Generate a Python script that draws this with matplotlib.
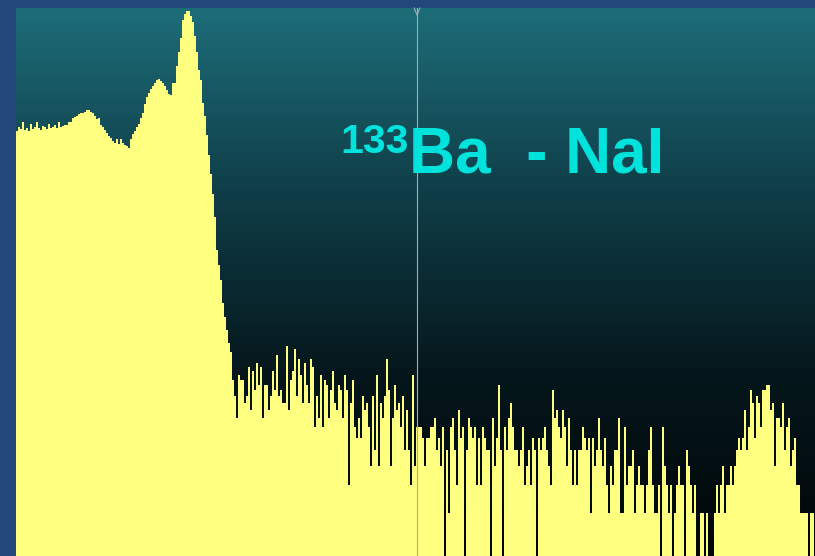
import numpy as np
import matplotlib
matplotlib.use("Agg")
import matplotlib.pyplot as plt
import matplotlib.transforms as mtransforms
from matplotlib.colors import LinearSegmentedColormap

# Gamma spectrum of Ba-133 taken with a NaI detector (counts per 2-channel bin)
counts_plateau = [530, 560, 545, 600, 540, 555, 530, 590, 545, 560, 600, 550, 540, 570,
                  560, 545, 590, 555, 560, 575, 555, 600, 565, 570, 580, 575, 600]
counts_bump = [600, 640, 650, 660, 680, 685, 690, 700, 720, 715, 700, 690, 660, 630,
               640, 580, 560, 540, 515, 490]
counts_valley = [480, 455, 445, 470, 440, 470, 445, 430, 425, 415, 470, 510, 530, 560]
counts_shoulder = [590, 640, 690, 780, 870, 920, 980, 1020, 1060, 1120, 1130, 1100, 1070,
                   1020, 960, 910, 900, 1060]
counts_peak = [1070, 1370, 1680, 2060, 2670, 2930, 3070, 3070, 2850, 2600, 2110, 1680,
               1290, 1120, 800, 660, 500, 375, 282, 211, 150, 93, 75, 60, 43, 35, 29,
               24, 21, 14, 11]
counts_tail_a = [8, 15, 14, 14, 10, 11, 17, 9, 16, 12,
                 18, 13, 17, 8, 13, 13, 9, 11, 16, 12,
                 20, 11, 12, 10, 10, 23, 9, 14, 16, 22,
                 11, 19, 15, 10, 18, 13, 10, 19, 17, 7,
                 11, 8, 15, 7, 14, 13, 8, 12, 16, 10,
                 9, 13, 12, 8, 15, 12, 3, 10, 14, 7,
                 6, 8, 6, 11, 9, 10, 7, 4, 11, 5,
                 15, 4, 10, 8, 11, 19, 12, 4, 8, 13,
                 9, 10, 7, 11, 5, 9, 5, 3, 15, 4, 7, 7]
counts_tail_b = [7, 6, 4, 6, 6, 7, 7, 8, 5, 6,
                 4, 7, 1, 5, 2, 7, 8, 5, 3, 9,
                 6, 7, 1, 5, 8, 7, 6, 7, 3, 6,
                 3, 7, 6, 5, 5, 1, 8, 4, 6, 13,
                 5, 1, 7, 5, 8, 10, 7, 5, 5, 4,
                 5, 7, 3, 4, 5, 3, 6, 5, 1, 6,
                 5, 6, 7, 5, 4, 3, 12, 8, 9, 7,
                 6, 9, 7, 4, 8, 5, 3, 5, 3, 5,
                 5, 7, 6, 5, 6, 2, 6, 4, 5, 8,
                 5, 4, 6, 3, 2, 4, 3, 5, 5, 8]
counts_tail_c = [2, 2, 7, 3, 4, 4, 5, 2, 3, 4, 3, 3, 2, 3, 5, 7, 3, 2, 2, 3,
                 1, 7, 4, 3, 2, 3, 1, 2, 3, 4, 3, 3, 1, 5, 4,
                 3, 2, 3, 1, 1, 2, 2, 1, 2, 1, 1, 1, 2,
                 3, 2, 3, 4, 2, 3, 3]
counts_high_peak = [4, 3, 4, 5, 6, 5, 6, 9, 5, 7, 12, 10, 6, 11, 10, 7, 12, 12, 13, 13,
                    9, 10, 4, 8, 8, 7, 10, 5, 7, 8, 4, 5, 6, 3]
counts_end = [3, 2, 2, 2, 2, 1, 2, 2, 1]

counts = np.array(counts_plateau + counts_bump + counts_valley + counts_shoulder
                  + counts_peak + counts_tail_a + counts_tail_b + counts_tail_c
                  + counts_high_peak + counts_end, dtype=float)
edges = np.arange(len(counts) + 1)

cursor_bin = 200.5
title_mass = "133"
title_text = "Ba  - NaI"

W, H = 815, 556
fig = plt.figure(figsize=(W / 100, H / 100), dpi=100, facecolor="#21477b")
rect = [16 / W, 0, (W - 16) / W, (H - 8) / H]

# background gradient
bg = fig.add_axes(rect, zorder=0)
grad = np.linspace(0, 1, 256).reshape(-1, 1)
cmap = LinearSegmentedColormap.from_list("bg", ["#1d6d79", "#0f3e48", "#05171c", "#010608"])
bg.imshow(grad, aspect="auto", cmap=cmap, extent=[0, 1, 0, 1], interpolation="bicubic")
bg.set_axis_off()

ax = fig.add_axes(rect, zorder=1)
ax.patch.set_alpha(0)
ax.set_yscale("log")
ax.stairs(counts, edges, baseline=0.5, fill=True, color="#ffff80", lw=0)
ax.set_xlim(0, 399.5)
ax.set_ylim(1.07, 3190)
ax.set_axis_off()

# cursor line with its marker at the top
ax.axvline(cursor_bin, color="#a3acae", lw=0.8, zorder=3)
trans = mtransforms.blended_transform_factory(ax.transData, ax.transAxes)
ax.plot([cursor_bin - 1.4, cursor_bin, cursor_bin + 1.4], [1.0, 0.987, 1.0],
        transform=trans, color="#a3acae", lw=0.8, zorder=3, clip_on=False)

font = dict(family=["Liberation Sans", "DejaVu Sans"], weight="bold", color="#00e2dc")
fig.text(340 / W, 1 - 153 / H, title_mass, fontsize=29.5, va="baseline", ha="left",
         zorder=5, **font)
fig.text(409 / W, 1 - 172 / H, title_text, fontsize=46, va="baseline", ha="left",
         zorder=5, **font)

fig.savefig("out.png", dpi=100, facecolor=fig.get_facecolor())
